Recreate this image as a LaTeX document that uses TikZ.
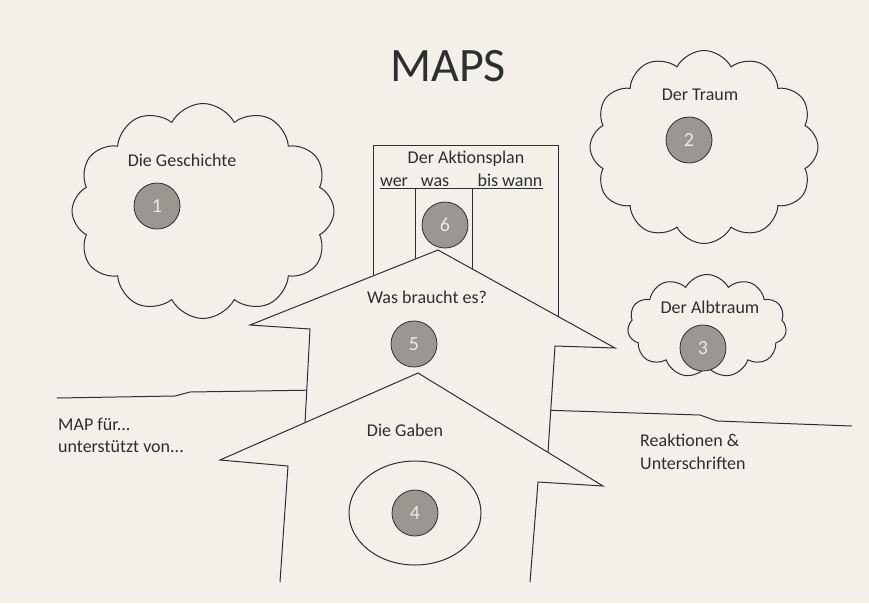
\documentclass[tikz,border=0pt]{standalone}
\usepackage{fontspec}
\setmainfont{Carlito}
\usetikzlibrary{shapes.symbols,shapes.geometric,positioning}
\definecolor{paper}{HTML}{F3F0EA}
\definecolor{ink}{HTML}{2E2E2E}
\definecolor{disc}{HTML}{9B9690}
\tikzset{
  cloudbox/.style = {draw=ink, line width=1pt, cloud, cloud puffs=#1, cloud puff arc=125, inner sep=0pt},
  numdisc/.style = {draw=ink, line width=0.8pt, fill=disc, circle, minimum size=46pt, inner sep=0pt, text=white!80!disc, font=\fontsize{20}{20}\selectfont},
  lbl/.style = {text=ink, font=\fontsize{18}{20}\selectfont, inner sep=0pt},
  wall/.style = {draw=ink, line width=1pt, fill=paper, line join=miter},
  rule/.style = {draw=ink, line width=1pt}
}
\begin{document}
\begin{tikzpicture}[x=1pt, y=-1pt]
  \useasboundingbox (0,0) rectangle (869,603);
  \fill[paper] (0,0) rectangle (869,603);
  \node[text=ink, font=\fontsize{48}{48}\selectfont, inner sep=0pt] (title) at (448,66) {MAPS};
  % clouds
  \node[cloudbox=12, minimum width=262pt, minimum height=215pt] (histcloud) at (203,211) {};
  \node[lbl] (histtext) at (182,160) {Die Geschichte};
  \node[numdisc] (n1) at (157,206) {1};
  \node[cloudbox=12, minimum width=228pt, minimum height=193pt] (dreamcloud) at (704,147) {};
  \node[lbl] (dreamtext) at (700,95) {Der Traum};
  \node[numdisc] (n2) at (689,140) {2};
  \node[cloudbox=11, minimum width=159pt, minimum height=103pt] (fearcloud) at (707,326) {};
  \node[lbl] (feartext) at (710,307) {Der Albtraum};
  \node[numdisc] (n3) at (703,348) {3};
  % Aktionsplan
  \draw[rule] (373,300) -- (373,145) -- (558,145) -- (558,330);
  \draw[rule] (380,188) -- (543,188);
  \draw[rule] (415,188) -- (415,280);
  \draw[rule] (472,188) -- (472,290);
  \node[lbl] (plantext) at (466,159) {Der Aktionsplan};
  \node[lbl, anchor=base] (who) at (394,186) {wer};
  \node[lbl, anchor=base] (what) at (435,186) {was};
  \node[lbl, anchor=base] (when) at (510,186) {bis wann};
  \node[numdisc] (n6) at (445,225) {6};
  % ground
  \draw[rule] (57,398) -- (175,396) -- (190,392) -- (320,390);
  \draw[rule] (540,410) -- (700,415) -- (717,421) -- (852,426);
  \node[lbl, anchor=west] (mapfor) at (58,424) {MAP für...};
  \node[lbl, anchor=west] (helpers) at (58,447) {unterstützt von...};
  \node[lbl, anchor=west] (replies) at (640,440) {Reaktionen \&};
  \node[lbl, anchor=west] (signs) at (640,463) {Unterschriften};
  % houses
  \filldraw[wall] (305,423) -- (310,329) -- (250,325) -- (438,250) -- (615,348) -- (555,346) -- (548,452);
  \node[lbl] (needtext) at (427,297) {Was braucht es?};
  \node[numdisc] (n5) at (414,344) {5};
  \filldraw[wall] (280,582) -- (288,466) -- (220,460) -- (418,373) -- (603,486) -- (538,482) -- (530,582);
  \node[lbl] (giftext) at (405,430) {Die Gaben};
  \node[draw=ink, line width=1pt, ellipse, minimum width=132pt, minimum height=104pt] (giftring) at (415,513) {};
  \node[numdisc] (n4) at (giftring.center) {4};
\end{tikzpicture}
\end{document}
